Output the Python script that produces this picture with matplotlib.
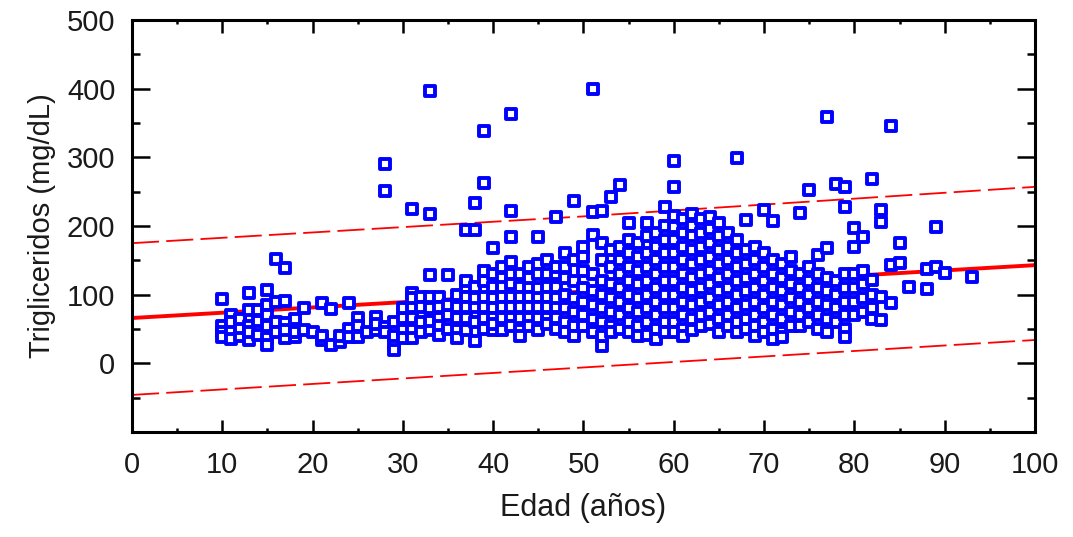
import matplotlib
matplotlib.use('Agg')
import matplotlib.pyplot as plt
from matplotlib.markers import MarkerStyle

# ------ data (edad -> trigliceridos) ------

dec_10 = {10: [94, 55, 45, 38], 11: [70, 48, 36, 60], 12: [60, 40, 52, 65],
          13: [102, 78, 55, 34, 45], 14: [78, 62, 42], 15: [107, 85, 55, 37, 27, 70],
          16: [152, 90, 60, 45], 17: [139, 91, 59, 37, 48], 18: [56, 39, 65, 45],
          19: [81, 49]}
dec_20 = {20: [45], 21: [88, 34, 40], 22: [79, 27], 23: [31, 40], 24: [88, 50, 38],
          25: [66, 39, 55], 26: [45], 27: [68, 49, 58], 28: [291, 251, 53, 45],
          29: [27, 20, 40, 60]}
dec_30 = {30: [66, 49, 37, 80], 31: [225, 102, 82, 66, 49, 37, 95],
          32: [97, 82, 60, 45], 33: [397, 218, 129, 97, 80, 49, 62],
          34: [97, 82, 66, 55, 42], 35: [129, 70, 50, 85], 36: [82, 66, 49, 37, 100],
          37: [194, 111, 97, 82, 66, 49, 120], 38: [233, 194, 111, 82, 33, 60, 95],
          39: [338, 262, 120, 97, 82, 66, 50, 135]}
dec_40 = {40: [168, 130, 111, 95, 80, 66, 49, 58], 41: [125, 111, 97, 82, 66, 49, 140],
          42: [363, 222, 184, 148, 130, 97, 82, 66, 55, 115],
          43: [130, 111, 97, 82, 66, 49, 40], 44: [111, 97, 82, 66, 140, 55, 125],
          45: [184, 145, 97, 82, 66, 49, 110, 130], 46: [130, 111, 97, 82, 66, 150, 58],
          47: [213, 130, 111, 82, 66, 140, 50, 95], 48: [160, 125, 100, 80, 60, 45, 140],
          49: [236, 150, 120, 95, 75, 55, 40]}
dec_50 = {50: [170, 135, 110, 90, 70, 55, 155],
          51: [400, 220, 187, 130, 105, 85, 65, 45],
          52: [222, 175, 150, 120, 100, 80, 60, 25, 40],
          53: [242, 165, 140, 115, 95, 75, 55, 45],
          54: [260, 170, 150, 130, 110, 90, 70, 50],
          55: [204, 160, 140, 120, 100, 80, 60, 45, 180],
          56: [175, 155, 135, 115, 95, 75, 55, 40],
          57: [204, 185, 160, 140, 120, 100, 80, 60, 42],
          58: [190, 170, 150, 130, 110, 90, 70, 50, 35],
          59: [228, 200, 180, 160, 140, 120, 100, 80, 60, 45]}
dec_60 = {60: [295, 257, 199, 180, 160, 140, 120, 100, 80, 60, 45, 215],
          61: [210, 190, 170, 150, 130, 110, 90, 70, 50, 40],
          62: [218, 200, 185, 165, 145, 125, 105, 85, 65, 48],
          63: [210, 190, 170, 150, 130, 110, 90, 70, 55],
          64: [213, 195, 175, 155, 135, 115, 95, 75, 58],
          65: [204, 185, 165, 145, 125, 105, 85, 65, 45],
          66: [190, 170, 150, 130, 110, 90, 70, 55],
          67: [299, 180, 160, 140, 120, 100, 80, 60, 45],
          68: [209, 165, 145, 125, 105, 85, 65, 50],
          69: [170, 150, 130, 110, 90, 70, 55, 40]}
dec_70 = {70: [223, 160, 140, 120, 100, 80, 60, 45],
          71: [207, 150, 130, 110, 90, 70, 50, 35],
          72: [145, 125, 105, 85, 65, 45, 38], 73: [155, 135, 115, 95, 75, 55],
          74: [219, 130, 110, 90, 70, 55], 75: [252, 140, 120, 100, 80, 60],
          76: [158, 130, 110, 90, 70, 50], 77: [359, 168, 125, 105, 85, 65, 45],
          78: [261, 120, 100, 80, 60], 79: [257, 228, 130, 110, 90, 70, 50, 38]}
dec_80 = {80: [197, 170, 130, 110, 90, 70], 81: [184, 135, 115, 95, 75],
          82: [268, 121, 100, 80, 65], 83: [223, 206, 97, 63], 84: [346, 143, 88],
          85: [175, 146], 86: [111], 88: [137, 108], 89: [140, 199]}
dec_90 = {90: [131], 93: [126]}

# regression line and prediction band (end points)
linea_x = [0, 100]
linea_y = [66, 143]
banda_x = [0, 50, 100]
banda_sup = [175, 214, 257]
banda_inf = [-46, -6, 34]

edad, trig = [], []
for grupo in [dec_10, dec_20, dec_30, dec_40, dec_50, dec_60, dec_70, dec_80, dec_90]:
    for e, valores in grupo.items():
        for v in valores:
            edad.append(e)
            trig.append(v)

# ------ plot ------
plt.rcParams['font.family'] = ['Liberation Sans', 'DejaVu Sans']
texto = '#1a1a1a'

fig = plt.figure(figsize=(10.73, 5.37), dpi=100)
ax = fig.add_axes([0.123, 0.1955, 0.8416, 0.7673])

ax.plot(linea_x, linea_y, color='red', linewidth=2.8, zorder=2)
ax.plot(banda_x, banda_sup, color='red', linewidth=1.3, dashes=(15, 4), zorder=2)
ax.plot(banda_x, banda_inf, color='red', linewidth=1.3, dashes=(15, 4), zorder=2)
ax.plot(edad, trig, linestyle='none', marker=MarkerStyle('s', joinstyle='round'),
        markersize=7.8, markerfacecolor='white', markeredgecolor='blue',
        markeredgewidth=2.8, zorder=3)

ax.set_xlim(0, 100)
ax.set_ylim(-100, 500)
ax.set_xticks(range(0, 101, 10))
ax.set_xticks(range(5, 100, 10), minor=True)
ax.set_yticks(range(0, 501, 100))
ax.set_yticks(range(-50, 500, 100), minor=True)

for s in ax.spines.values():
    s.set_linewidth(2.2)

ax.tick_params(axis='x', which='both', direction='in', top=True, bottom=True,
               width=1.8, labelsize=21, labelcolor=texto, pad=14)
ax.tick_params(axis='x', which='major', length=9)
ax.tick_params(axis='x', which='minor', length=3)
ax.tick_params(axis='y', which='both', direction='in', left=True, right=True,
               width=1.8, labelsize=21, labelcolor=texto, pad=12)
ax.tick_params(axis='y', which='major', length=13)
ax.tick_params(axis='y', which='minor', length=5.5)

ax.set_xlabel('Edad (años)', fontsize=22, color=texto, labelpad=10)
ax.set_ylabel('Trigliceridos (mg/dL)', fontsize=21, color=texto, labelpad=8)

fig.savefig('out.png', dpi=100)
